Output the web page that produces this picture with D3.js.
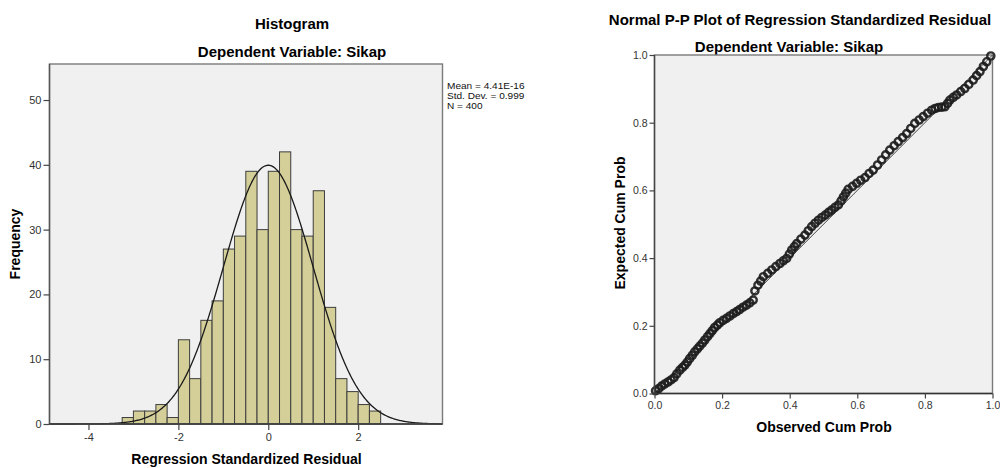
<!DOCTYPE html>
<html>
<head>
<meta charset="utf-8">
<script src="https://cdn.jsdelivr.net/npm/d3@7"></script>
<style>
body{margin:0;background:#fff;}
text{font-family:"Liberation Sans",Arial,sans-serif;}
</style>
</head>
<body>
<svg id="Chart" width="1000" height="468"></svg>
<script>
// histogram: lower bin edges and frequencies
var binStarts = [-3.25,-3,-2.75,-2.5,-2.25,-2,-1.75,-1.5,-1.25,-1,-0.75,-0.5,-0.25,0,0.25,0.5,0.75,1,1.25,1.5,1.75,2,2.25];
var binWidth = 0.25;
var counts = [1,2,2,3,1,13,7,16,19,27,29,39,30,39,42,30,29,36,18,7,5,3,2];
var histXTicks = [-4,-2,0,2];
var histYTicks = [0,10,20,30,40,50];

// values printed in the legend
var resMean = 4.41e-16;
var resSd = 0.999;
var resN = 400;
var legendLines = ["Mean = 4.41E-16","Std. Dev. = 0.999","N = 400"];

// P-P plot, read along the chain of points
var ppObserved = [0.003,0.012,0.021,0.030,0.040,0.049,0.058,0.066,0.075,0.083,0.090,0.097,0.104,0.112,0.119,0.127,0.134,0.142,0.149,0.157,
	0.164,0.171,0.178,0.186,0.193,0.203,0.213,0.223,0.233,0.243,0.252,0.262,0.272,0.282,0.292,0.297,0.306,0.314,0.322,0.335,
	0.347,0.359,0.371,0.381,0.391,0.399,0.406,0.414,0.421,0.433,0.445,0.455,0.465,0.475,0.485,0.495,0.505,0.515,0.524,0.534,
	0.544,0.552,0.559,0.566,0.573,0.586,0.598,0.610,0.623,0.635,0.647,0.660,0.672,0.684,0.696,0.709,0.721,0.734,0.746,0.758,
	0.770,0.783,0.795,0.808,0.820,0.830,0.840,0.850,0.859,0.867,0.874,0.884,0.894,0.906,0.918,0.930,0.943,0.953,0.963,0.973,0.983,0.995];
var ppExpected = [0.008,0.014,0.022,0.028,0.034,0.040,0.047,0.058,0.069,0.077,0.084,0.093,0.103,0.113,0.123,0.132,0.140,0.149,0.158,0.168,
	0.177,0.186,0.195,0.202,0.209,0.216,0.222,0.229,0.236,0.242,0.248,0.255,0.261,0.268,0.276,0.303,0.320,0.332,0.345,0.355,
	0.365,0.375,0.384,0.392,0.399,0.412,0.424,0.434,0.443,0.456,0.468,0.481,0.493,0.503,0.512,0.520,0.527,0.535,0.542,0.550,
	0.557,0.569,0.581,0.592,0.603,0.612,0.621,0.630,0.638,0.650,0.660,0.675,0.690,0.705,0.719,0.732,0.744,0.756,0.768,0.783,
	0.798,0.808,0.818,0.828,0.837,0.842,0.845,0.846,0.847,0.857,0.867,0.875,0.882,0.892,0.901,0.913,0.926,0.939,0.951,0.966,0.980,0.997];
var ppTicks = [0,0.2,0.4,0.6,0.8,1];

var svg = d3.select("#Chart");

function styleAxis(g, size){
	g.select(".domain").remove();
	g.selectAll(".tick line").attr("stroke", "#444").attr("stroke-width", 1.2);
	g.selectAll(".tick text").attr("fill", "#333").style("font-size", size + "px")
	 .style("font-family", "'Liberation Sans',Arial,sans-serif");
}

function drawHistogram(){
	var left = 49.5, right = 442.5, top = 64, bottom = 424;
	var x = d3.scaleLinear().domain([-4.867, 3.876]).range([left, right]);
	var y = d3.scaleLinear().domain([0, 55.56]).range([bottom, top]);

	svg.append("text").attr("x", 292).attr("y", 29).attr("text-anchor", "middle")
		.style("font-size", "15px").style("font-weight", "bold").text("Histogram");
	svg.append("text").attr("x", 292).attr("y", 57).attr("text-anchor", "middle")
		.style("font-size", "15px").style("font-weight", "bold").text("Dependent Variable: Sikap");

	svg.append("rect").attr("x", left).attr("y", top).attr("width", right - left).attr("height", bottom - top)
		.attr("fill", "#f0f0f0");

	svg.append("g").selectAll("rect").data(counts).enter().append("rect")
		.attr("x", function(d, i){ return x(binStarts[i]); })
		.attr("y", function(d){ return y(d); })
		.attr("width", function(d, i){ return x(binStarts[i] + binWidth) - x(binStarts[i]); })
		.attr("height", function(d){ return bottom - y(d); })
		.attr("fill", "#d4cf98")
		.attr("stroke", "#3d3d3d")
		.attr("stroke-width", 1);

	// fitted normal curve from the legend values
	var xs = d3.range(-4.867, 3.876, 0.02);
	var line = d3.line()
		.x(function(d){ return x(d); })
		.y(function(d){
			var z = (d - resMean) / resSd;
			return y(resN * binWidth * Math.exp(-0.5 * z * z) / (resSd * Math.sqrt(2 * Math.PI)));
		});
	svg.append("path").datum(xs).attr("d", line).attr("fill", "none")
		.attr("stroke", "#1a1a1a").attr("stroke-width", 1.3);

	svg.append("rect").attr("x", left).attr("y", top).attr("width", right - left).attr("height", bottom - top)
		.attr("fill", "none").attr("stroke", "#7a7a7a").attr("stroke-width", 1.4);
	svg.append("line").attr("x1", left).attr("x2", left).attr("y1", top).attr("y2", bottom)
		.attr("stroke", "#555").attr("stroke-width", 1.4);
	svg.append("line").attr("x1", left).attr("x2", right).attr("y1", bottom).attr("y2", bottom)
		.attr("stroke", "#333").attr("stroke-width", 1.4);

	var gx = svg.append("g").attr("transform", "translate(0," + bottom + ")")
		.call(d3.axisBottom(x).tickValues(histXTicks).tickSize(6).tickPadding(3)
			.tickFormat(function(d){ return String(d); }));
	styleAxis(gx, 11);
	var gy = svg.append("g").attr("transform", "translate(" + left + ",0)")
		.call(d3.axisLeft(y).tickValues(histYTicks).tickSize(6).tickPadding(2)
			.tickFormat(function(d){ return String(d); }));
	styleAxis(gy, 11);

	svg.append("text").attr("x", 246.5).attr("y", 464).attr("text-anchor", "middle")
		.style("font-size", "14px").style("font-weight", "bold").text("Regression Standardized Residual");
	svg.append("text").attr("transform", "translate(20,244) rotate(-90)").attr("text-anchor", "middle")
		.style("font-size", "14px").style("font-weight", "bold").text("Frequency");

	svg.append("g").selectAll("text").data(legendLines).enter().append("text")
		.attr("x", 447).attr("y", function(d, i){ return 89 + i * 10; })
		.attr("fill", "#111").style("font-size", "9px")
		.attr("transform", "translate(447,0) scale(1.12,1) translate(-447,0)")
		.text(function(d){ return d; });
}

function drawPP(){
	var left = 654.5, right = 992.5, top = 55, bottom = 393.5;
	var x = d3.scaleLinear().domain([0, 1]).range([left, right]);
	var y = d3.scaleLinear().domain([0, 1]).range([bottom, top]);

	svg.append("text").attr("x", 800).attr("y", 25).attr("text-anchor", "middle")
		.style("font-size", "15px").style("font-weight", "bold").text("Normal P-P Plot of Regression Standardized Residual");
	svg.append("text").attr("x", 789).attr("y", 52).attr("text-anchor", "middle")
		.style("font-size", "15px").style("font-weight", "bold").text("Dependent Variable: Sikap");

	svg.append("rect").attr("x", left).attr("y", top).attr("width", right - left).attr("height", bottom - top)
		.attr("fill", "#f0f0f0").attr("stroke", "#7a7a7a").attr("stroke-width", 1.4);

	svg.append("line").attr("x1", x(0)).attr("y1", y(0)).attr("x2", x(1)).attr("y2", y(1))
		.attr("stroke", "#444").attr("stroke-width", 1);

	svg.append("g").selectAll("circle").data(ppObserved).enter().append("circle")
		.attr("cx", function(d){ return x(d); })
		.attr("cy", function(d, i){ return y(ppExpected[i]); })
		.attr("r", 3.6)
		.attr("fill", "none")
		.attr("stroke", "#1c1c1c")
		.attr("stroke-opacity", 0.9)
		.attr("stroke-width", 2.4);

	svg.append("line").attr("x1", left).attr("x2", left).attr("y1", top).attr("y2", bottom)
		.attr("stroke", "#444").attr("stroke-width", 1.4);
	svg.append("line").attr("x1", left).attr("x2", right).attr("y1", bottom).attr("y2", bottom)
		.attr("stroke", "#333").attr("stroke-width", 1.4);

	var fmt = d3.format(".1f");
	var gx = svg.append("g").attr("transform", "translate(0," + bottom + ")")
		.call(d3.axisBottom(x).tickValues(ppTicks).tickSize(5).tickPadding(3).tickFormat(fmt));
	styleAxis(gx, 10.5);
	var gy = svg.append("g").attr("transform", "translate(" + left + ",0)")
		.call(d3.axisLeft(y).tickValues(ppTicks).tickSize(5).tickPadding(2).tickFormat(fmt));
	styleAxis(gy, 10.5);

	svg.append("text").attr("x", 824).attr("y", 432).attr("text-anchor", "middle")
		.style("font-size", "14px").style("font-weight", "bold").text("Observed Cum Prob");
	svg.append("text").attr("transform", "translate(625,223) rotate(-90)").attr("text-anchor", "middle")
		.style("font-size", "14px").style("font-weight", "bold").text("Expected Cum Prob");
}

drawHistogram();
drawPP();
</script>
</body>
</html>
